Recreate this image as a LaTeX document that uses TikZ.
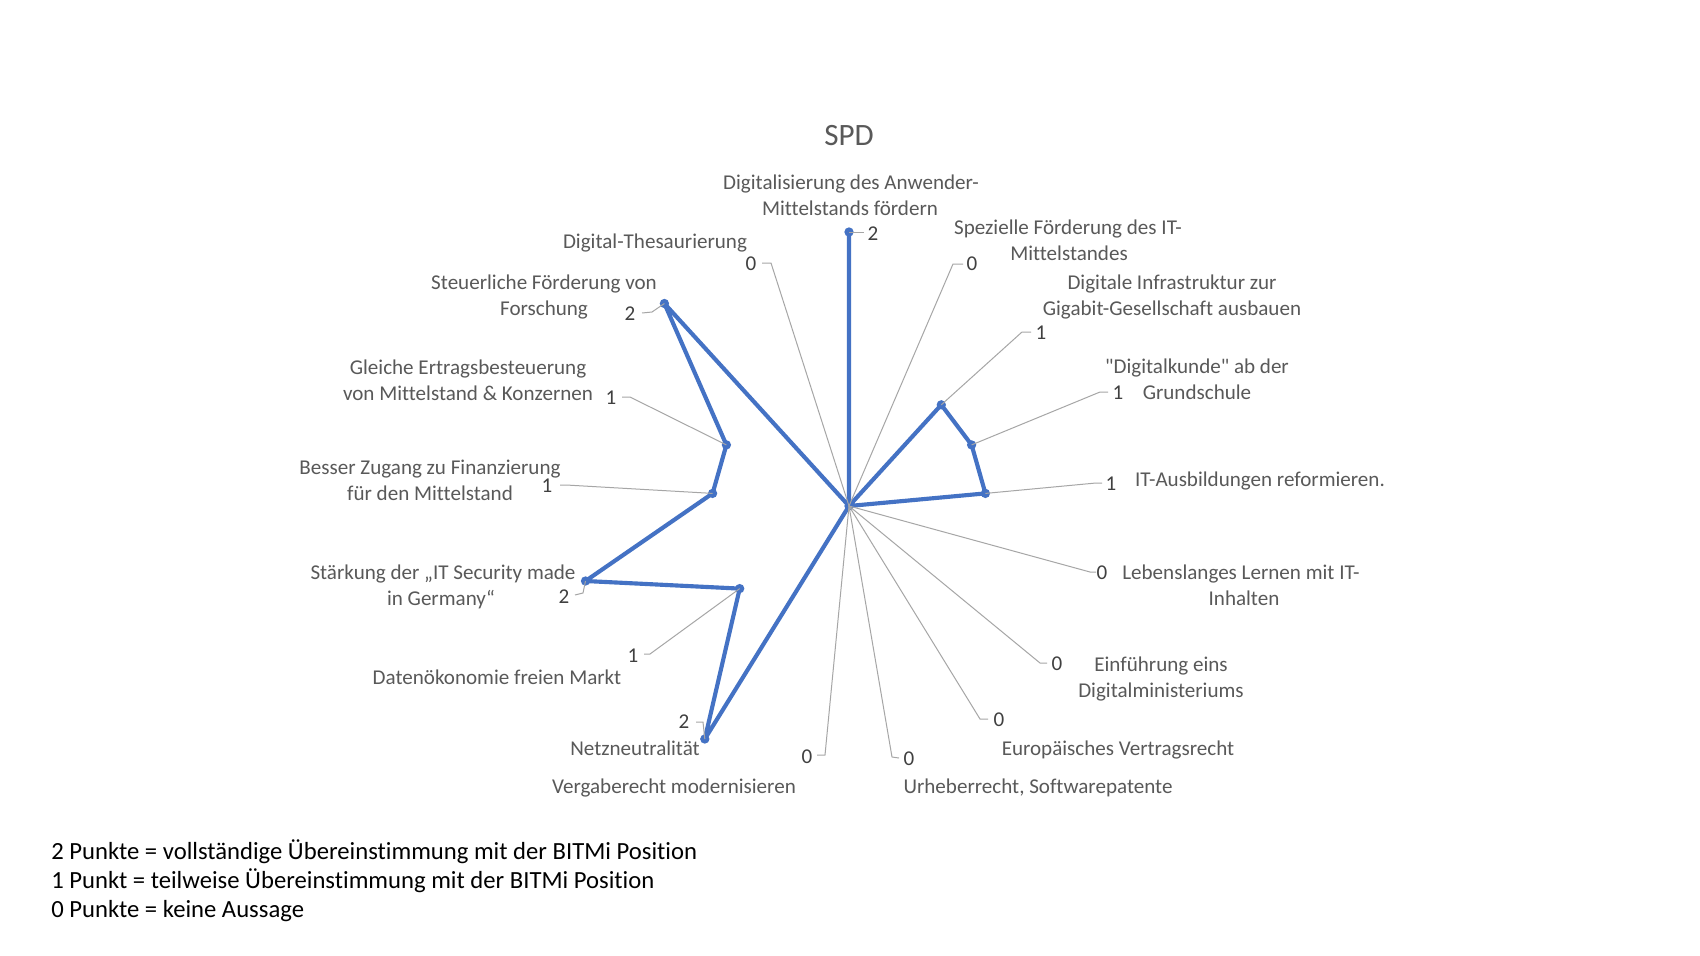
\documentclass[tikz,border=0pt]{standalone}
\usepackage{fontspec}
\setmainfont{Carlito}
\newfontfamily\chartfont{Carlito}[Ligatures=NoCommon]
\definecolor{serie}{HTML}{4472C4}
\definecolor{leader}{HTML}{A6A6A6}
\definecolor{catgray}{HTML}{595959}
\definecolor{valgray}{HTML}{404040}
\begin{document}
\begin{tikzpicture}[x=0.75pt,y=-0.75pt,
  catlab/.style={anchor=base, inner sep=0pt, text=catgray, font=\chartfont\fontsize{15.8}{19}\selectfont},
  vallab/.style={anchor=base, inner sep=0pt, text=valgray, font=\chartfont\fontsize{15.8}{19}\selectfont},
  leaderline/.style={draw=leader, line width=0.75pt},
  serieline/.style={draw=serie, line width=3.1pt, line join=round},
  markdot/.style={circle, fill=serie, inner sep=0pt, minimum size=7pt},
  titlelab/.style={anchor=base, inner sep=0pt, text=catgray, font=\chartfont\fontsize{23.3}{28}\selectfont},
  legendlab/.style={anchor=base west, inner sep=0pt, text=black, font=\chartfont\fontsize{18.5}{22}\selectfont}]
\useasboundingbox[fill=white] (0,0) rectangle (1700,956);

% title
\node[titlelab] (title) at (849,145) {SPD};

% data points
\coordinate (C) at (849,506);
\coordinate (p0) at (849,232);
\coordinate (p2) at (941.3,404.8);
\coordinate (p3) at (971.6,444.9);
\coordinate (p4) at (985.4,493.4);
\coordinate (p10) at (704.8,739.0);
\coordinate (p11) at (739.7,588.6);
\coordinate (p12) at (585.5,581.0);
\coordinate (p13) at (712.6,493.4);
\coordinate (p14) at (726.4,444.9);
\coordinate (p15) at (664.4,303.5);

% series
\draw[serieline] (p0) -- (C) -- (p2) -- (p3) -- (p4) -- (C) -- (p10) -- (p11) -- (p12) -- (p13) -- (p14) -- (p15) -- (C) -- cycle;
\foreach \p in {C,p0,p2,p3,p4,p10,p11,p12,p13,p14,p15} \node[markdot] at (\p) {};

% leader lines
\coordinate (e0) at (864,232);
\coordinate (b1) at (953,264); \coordinate (e1) at (963,264);
\coordinate (b2) at (1022,332); \coordinate (e2) at (1031,332);
\coordinate (b3) at (1100,392); \coordinate (e3) at (1108,392);
\coordinate (b4) at (1096,483); \coordinate (e4) at (1102,483);
\coordinate (b5) at (1090,572); \coordinate (e5) at (1096,572);
\coordinate (b6) at (1040,663); \coordinate (e6) at (1047,663);
\coordinate (b7) at (980,719); \coordinate (e7) at (988,719);
\coordinate (b8) at (892,757); \coordinate (e8) at (899,758);
\coordinate (b9) at (825,755); \coordinate (e9) at (817,755);
\coordinate (b10) at (703,722); \coordinate (e10) at (696,722);
\coordinate (b11) at (650,654); \coordinate (e11) at (644,654);
\coordinate (b12) at (583,593); \coordinate (e12) at (575,595);
\coordinate (b13) at (566,485); \coordinate (e13) at (560,485);
\coordinate (b14) at (630,397); \coordinate (e14) at (622,397);
\coordinate (b15) at (652,312); \coordinate (e15) at (642,313);
\coordinate (b16) at (771,263); \coordinate (e16) at (762,263);

\draw[leaderline] (p0) -- (e0);
\draw[leaderline] (C) -- (b1) -- (e1);
\draw[leaderline] (p2) -- (b2) -- (e2);
\draw[leaderline] (p3) -- (b3) -- (e3);
\draw[leaderline] (p4) -- (b4) -- (e4);
\draw[leaderline] (C) -- (b5) -- (e5);
\draw[leaderline] (C) -- (b6) -- (e6);
\draw[leaderline] (C) -- (b7) -- (e7);
\draw[leaderline] (C) -- (b8) -- (e8);
\draw[leaderline] (C) -- (b9) -- (e9);
\draw[leaderline] (p10) -- (b10) -- (e10);
\draw[leaderline] (p11) -- (b11) -- (e11);
\draw[leaderline] (p12) -- (b12) -- (e12);
\draw[leaderline] (p13) -- (b13) -- (e13);
\draw[leaderline] (p14) -- (b14) -- (e14);
\draw[leaderline] (p15) -- (b15) -- (e15);
\draw[leaderline] (C) -- (b16) -- (e16);

% value labels
\node[vallab] (v0) at (873,240) {2};
\node[vallab] (v1) at (972,270.5) {0};
\node[vallab] (v2) at (1041,339.5) {1};
\node[vallab] (v3) at (1118,399.5) {1};
\node[vallab] (v4) at (1111,490.5) {1};
\node[vallab] (v5) at (1102,579.5) {0};
\node[vallab] (v6) at (1057,670.5) {0};
\node[vallab] (v7) at (999,726.5) {0};
\node[vallab] (v8) at (909,765.5) {0};
\node[vallab] (v9) at (807,763.5) {0};
\node[vallab] (v10) at (684,728.5) {2};
\node[vallab] (v11) at (633,662.5) {1};
\node[vallab] (v12) at (564,603.5) {2};
\node[vallab] (v13) at (547,492.5) {1};
\node[vallab] (v14) at (611,404.5) {1};
\node[vallab] (v15) at (630,320.5) {2};
\node[vallab] (v16) at (751,270.5) {0};

% category labels
\node[catlab] (c0a) at (851,189) {Digitalisierung des Anwender-};
\node[catlab] (c0b) at (850,215) {Mittelstands fördern};
\node[catlab] (c1a) at (1068,234) {Spezielle Förderung des IT-};
\node[catlab] (c1b) at (1069,260) {Mittelstandes};
\node[catlab] (c2a) at (1172,289) {Digitale Infrastruktur zur};
\node[catlab] (c2b) at (1172,315) {Gigabit-Gesellschaft ausbauen};
\node[catlab] (c3a) at (1197,373) {"Digitalkunde" ab der};
\node[catlab] (c3b) at (1197,399) {Grundschule};
\node[catlab] (c4) at (1260,486) {IT-Ausbildungen reformieren.};
\node[catlab] (c5a) at (1241,579) {Lebenslanges Lernen mit IT-};
\node[catlab] (c5b) at (1244,605) {Inhalten};
\node[catlab] (c6a) at (1161,671) {Einführung eins};
\node[catlab] (c6b) at (1161,697) {Digitalministeriums};
\node[catlab] (c7) at (1118,755) {Europäisches Vertragsrecht};
\node[catlab] (c8) at (1038,793) {Urheberrecht, Softwarepatente};
\node[catlab] (c9) at (674,793) {Vergaberecht modernisieren};
\node[catlab] (c10) at (635,755) {Netzneutralität};
\node[catlab] (c11) at (497,684) {Datenökonomie freien Markt};
\node[catlab] (c12a) at (443,579) {Stärkung der „IT Security made};
\node[catlab] (c12b) at (441,605) {in Germany“};
\node[catlab] (c13a) at (430,474) {Besser Zugang zu Finanzierung};
\node[catlab] (c13b) at (430,500) {für den Mittelstand};
\node[catlab] (c14a) at (468,374) {Gleiche Ertragsbesteuerung};
\node[catlab] (c14b) at (468,400) {von Mittelstand \& Konzernen};
\node[catlab] (c15a) at (544,289) {Steuerliche Förderung von};
\node[catlab] (c15b) at (544,315) {Forschung};
\node[catlab] (c16) at (655,248) {Digital-Thesaurierung};

% legend
\node[legendlab] (l1) at (51,859) {2 Punkte = vollständige Übereinstimmung mit der BITMi Position};
\node[legendlab] (l2) at (51,888) {1 Punkt = teilweise Übereinstimmung mit der BITMi Position};
\node[legendlab] (l3) at (51,917) {0 Punkte = keine Aussage};
\end{tikzpicture}
\end{document}
